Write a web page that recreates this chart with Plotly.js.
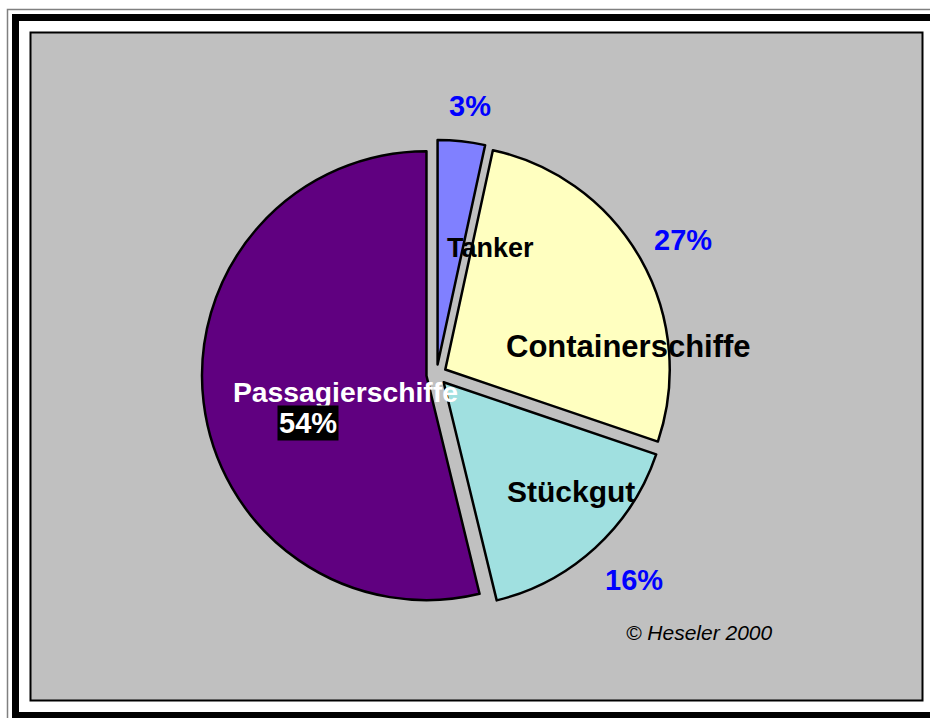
<!DOCTYPE html>
<html>
<head>
<meta charset="utf-8">
<script src="https://cdn.plot.ly/plotly-3.0.1.min.js"></script>
<style>
  html, body { margin: 0; padding: 0; background: #ffffff; }
  #chart { width: 930px; height: 718px; }
</style>
</head>
<body>
<div id="chart"></div>
<script>
// ---- data ----
var categories = ['Tanker', 'Containerschiffe', 'Stückgut', 'Passagierschiffe'];
var shares = [3.4, 26.8, 16.0, 53.8];
var shareLabels = ['3%', '27%', '16%', '54%'];
var sliceColors = ['#8080FF', '#FFFFC0', '#A0E0E0', '#600080'];
var creditText = '© Heseler 2000';

// ---- helpers: pixel -> paper ----
var W = 930, H = 718;
function fx(x) { return x / W; }
function fy(y) { return 1 - y / H; }

var FONT = 'Liberation Sans, Arial, Helvetica, sans-serif';

var cx = 436.5, cy = 374.5, boxHalf = 235;

var trace = {
  type: 'pie',
  labels: categories,
  values: shares,
  sort: false,
  direction: 'clockwise',
  rotation: 0,
  pull: [0.045, 0.045, 0.047, 0.045],
  marker: { colors: sliceColors, line: { color: '#000000', width: 2.5 } },
  textinfo: 'none',
  hoverinfo: 'skip',
  showlegend: false,
  domain: { x: [fx(cx - boxHalf), fx(cx + boxHalf)], y: [fy(cy + boxHalf), fy(cy - boxHalf)] }
};

function ann(x, y, text, size, color, extra) {
  var a = {
    xref: 'paper', yref: 'paper', x: fx(x), y: fy(y),
    xanchor: 'center', yanchor: 'middle', showarrow: false,
    text: text,
    font: { family: FONT, size: size, color: color }
  };
  if (extra) for (var k in extra) a[k] = extra[k];
  return a;
}

var annotations = [
  ann(490, 248, '<b>' + categories[0] + '</b>', 27, '#000000'),
  ann(628, 346, '<b>' + categories[1] + '</b>', 31, '#000000'),
  ann(571, 491, '<b>' + categories[2] + '</b>', 30, '#000000'),
  ann(345.5, 392, '<b>' + categories[3] + '</b>', 28.3, '#FFFFFF'),
  ann(307.5, 423, '<b>' + shareLabels[3] + '</b>', 29, '#FFFFFF', { bgcolor: '#000000', borderpad: 1 }),
  ann(470.5, 106, '<b>' + shareLabels[0] + '</b>', 29, '#0000FF'),
  ann(683, 240, '<b>' + shareLabels[1] + '</b>', 29, '#0000FF'),
  ann(633.5, 580, '<b>' + shareLabels[2] + '</b>', 29, '#0000FF'),
  ann(699.5, 632, '<i>' + creditText + '</i>', 21, '#000000')
];

var shapes = [
  // outer thin grey line
  { type: 'rect', xref: 'paper', yref: 'paper', layer: 'below',
    x0: fx(7.5), x1: fx(945), y0: fy(9.5), y1: fy(730),
    line: { color: '#808080', width: 1.5 }, fillcolor: 'rgba(0,0,0,0)' },
  // thick black band
  { type: 'rect', xref: 'paper', yref: 'paper', layer: 'below',
    x0: fx(15.5), x1: fx(940), y0: fy(17.5), y1: fy(715.5),
    line: { color: '#000000', width: 7 }, fillcolor: 'rgba(0,0,0,0)' },
  // grey plot area
  { type: 'rect', xref: 'paper', yref: 'paper', layer: 'below',
    x0: fx(30.5), x1: fx(922.5), y0: fy(32.5), y1: fy(700.5),
    line: { color: '#000000', width: 2 }, fillcolor: '#C0C0C0' }
];

var layout = {
  width: W, height: H,
  margin: { l: 0, r: 0, t: 0, b: 0, pad: 0 },
  paper_bgcolor: '#FFFFFF',
  plot_bgcolor: '#FFFFFF',
  showlegend: false,
  annotations: annotations,
  shapes: shapes,
  font: { family: FONT }
};

Plotly.newPlot('chart', [trace], layout, { displayModeBar: false, staticPlot: true });
</script>
</body>
</html>
